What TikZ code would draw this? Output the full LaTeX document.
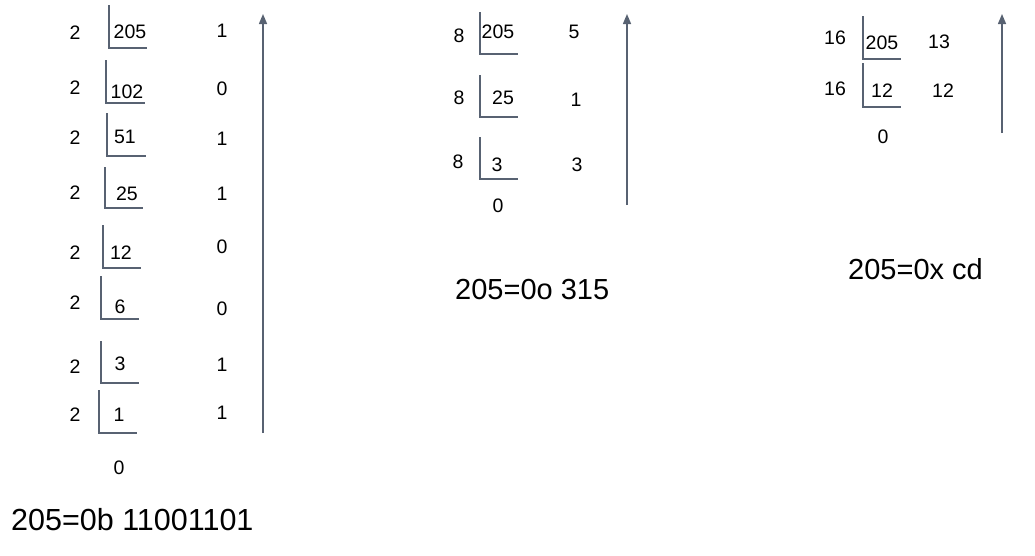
\documentclass[tikz,border=0pt]{standalone}
\usepackage{fontspec}
\setmainfont{Liberation Sans}
\usetikzlibrary{arrows.meta}
\definecolor{ln}{RGB}{88,98,114}
\tikzset{
  num/.style={inner sep=0pt, font=\fontsize{19.5}{19.5}\selectfont},
  big/.style={inner sep=0pt, anchor=west, font=\fontsize{29}{29}\selectfont},
  brk/.style={draw=ln, line width=1.4pt},
  arr/.style={draw=ln, line width=1.5pt, -{Triangle[length=10pt,width=8pt]}}
}
\begin{document}
\begin{tikzpicture}[x=1pt,y=-1pt]
\useasboundingbox (0,0) rectangle (1035,555);
% ---------- binary ----------
\foreach \i/\dy/\q/\qx/\qy/\r/\ry in {
  1/33/205/130/32/1/31,
  2/88/102/127/92/0/89,
  3/138/51/125/137/1/139,
  4/193/25/127/194/1/194,
  5/253/12/121/253/0/247,
  6/303/6/120/307/0/309,
  7/367/3/120/364/1/365,
  8/415/1/119/415/1/413}{
  \node[num] (bd\i) at (75,\dy) {2};
  \node[num] (bq\i) at (\qx,\qy) {\q};
  \node[num] (br\i) at (222,\ry) {\r};
}
\draw[brk] (109,5) |- (147,48);
\draw[brk] (106,60) |- (145,103);
\draw[brk] (107,113) |- (146,156);
\draw[brk] (105,167) |- (143,208);
\draw[brk] (103,225) |- (141,268);
\draw[brk] (101,276) |- (139,319);
\draw[brk] (101,341) |- (139,383);
\draw[brk] (99,390) |- (137,433);
\node[num] (bz) at (119,468) {0};
\coordinate (ba0) at (263,433);
\coordinate (ba1) at (263,14);
\draw[arr] (ba0) -- (ba1);
\node[big, font=\fontsize{30.5}{30.5}\selectfont] (bres) at (11,520) {205=0b 11001101};
% ---------- octal ----------
\node[num] (od1) at (459,36) {8};
\node[num] (oq1) at (498,32) {205};
\node[num] (or1) at (574,32) {5};
\node[num] (od2) at (459,98) {8};
\node[num] (oq2) at (503,98) {25};
\node[num] (or2) at (576,100) {1};
\node[num] (od3) at (458,162) {8};
\node[num] (oq3) at (497,165) {3};
\node[num] (or3) at (577,165) {3};
\draw[brk] (480,12) |- (518,54);
\draw[brk] (480,75) |- (518,117);
\draw[brk] (480,137) |- (518,179);
\node[num] (oz) at (498,206) {0};
\coordinate (oa0) at (627,205);
\coordinate (oa1) at (627,14);
\draw[arr] (oa0) -- (oa1);
\node[big] (ores) at (455,290) {205=0o 315};
% ---------- hex ----------
\node[num] (hd1) at (835,38) {16};
\node[num] (hq1) at (882,43) {205};
\node[num] (hr1) at (939,42) {13};
\node[num] (hd2) at (835,89) {16};
\node[num] (hq2) at (882,91) {12};
\node[num] (hr2) at (943,91) {12};
\draw[brk] (863,16) |- (901,59);
\draw[brk] (863,63) |- (901,107);
\node[num] (hz) at (883,137) {0};
\coordinate (ha0) at (1002,133);
\coordinate (ha1) at (1002,14);
\draw[arr] (ha0) -- (ha1);
\node[big] (hres) at (848,269) {205=0x cd};
\end{tikzpicture}
\end{document}
